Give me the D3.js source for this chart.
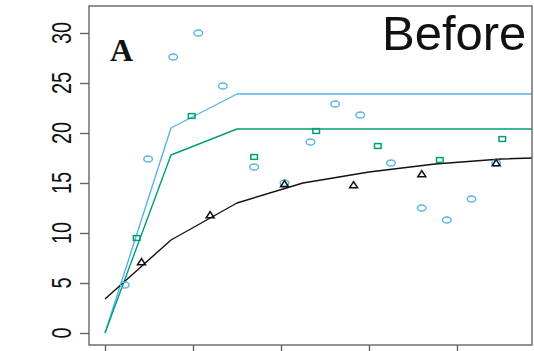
<!DOCTYPE html>
<html><head><meta charset="utf-8">
<script src="https://cdn.jsdelivr.net/npm/d3@7"></script>
<style>html,body{margin:0;padding:0;background:#fff;overflow:hidden}</style>
</head><body>
<script>
const xTicks = [0, 20, 40, 60, 80];
const yTicks = [0, 5, 10, 15, 20, 25, 30];
const curveX = [0, 15, 30, 45, 60, 75, 90, 105];
const blueLine = [0, 20.5, 23.9, 23.9, 23.9, 23.9, 23.9, 23.9];
const greenLine = [0, 17.8, 20.4, 20.4, 20.4, 20.4, 20.4, 20.4];
const blackLine = [3.4, 9.3, 13.0, 15.0, 16.1, 16.9, 17.4, 17.6];
const blueX = [4.5, 9.8, 15.5, 21.2, 26.8, 33.9, 40.8, 46.7, 52.3, 58.0, 65.0, 72.0, 77.7, 83.3, 88.9];
const blueY = [4.8, 17.4, 27.6, 30.0, 24.7, 16.6, 15.0, 19.1, 22.9, 21.8, 17.0, 12.5, 11.3, 13.4, 17.0];
const greenX = [7.2, 19.7, 33.9, 48.0, 62.0, 76.1, 90.3];
const greenY = [9.5, 21.7, 17.6, 20.2, 18.7, 17.3, 19.4];
const blackX = [8.3, 23.9, 40.8, 56.5, 72.0, 88.9];
const blackY = [7.1, 11.8, 14.9, 14.8, 15.9, 17.0];
const panelLabel = "A";
const titleText = "Before";

const W = 534, H = 351;
const L = 89, R = 532, T = 6, B = 345;
const svg = d3.select("body").append("svg").attr("width", W).attr("height", H);

const x = d3.scaleLinear().domain([-3.636, 97.05]).range([L, R]);
const y = d3.scaleLinear().domain([-1.2, 32.7]).range([B, T]);

const BLUE = "#56B4E9", GREEN = "#009E73", BLACK = "#111";

svg.append("clipPath").attr("id", "clip").append("rect")
  .attr("x", L).attr("y", T).attr("width", R - L).attr("height", B - T);
const plot = svg.append("g").attr("clip-path", "url(#clip)");

const line = d3.line().x((d, i) => x(curveX[i])).y(d => y(d));
[[blueLine, BLUE], [greenLine, GREEN], [blackLine, BLACK]].forEach(([arr, c]) => {
  plot.append("path").attr("d", line(arr)).attr("fill", "none")
    .attr("stroke", c).attr("stroke-width", 1.4).attr("stroke-linejoin", "round");
});

// blue circles
plot.selectAll(".c").data(blueX).join("ellipse")
  .attr("cx", d => x(d)).attr("cy", (d, i) => y(blueY[i]))
  .attr("rx", 4.3).attr("ry", 3).attr("fill", "none").attr("stroke", BLUE).attr("stroke-width", 1.4);
// green squares
plot.selectAll(".s").data(greenX).join("rect")
  .attr("x", d => x(d) - 3.3).attr("y", (d, i) => y(greenY[i]) - 2.4)
  .attr("width", 6.6).attr("height", 4.8).attr("fill", "none").attr("stroke", GREEN).attr("stroke-width", 1.5);
// black triangles
plot.selectAll(".t").data(blackX).join("path")
  .attr("d", (d, i) => {
    const cx = x(d), cy = y(blackY[i]);
    return `M${cx - 4},${cy + 2.8}L${cx + 4},${cy + 2.8}L${cx},${cy - 3.4}Z`;
  })
  .attr("fill", "none").attr("stroke", BLACK).attr("stroke-width", 1.5).attr("stroke-linejoin", "miter");

// box
svg.append("rect").attr("x", L).attr("y", T).attr("width", R - L).attr("height", B - T)
  .attr("fill", "none").attr("stroke", "#666").attr("stroke-width", 1.4);

// y axis
const yAxis = svg.append("g").attr("transform", `translate(${L},0)`)
  .call(d3.axisLeft(y).tickValues(yTicks).tickSize(9).tickFormat(""));
yAxis.select(".domain").remove();
yAxis.selectAll("line").attr("stroke", "#666").attr("stroke-width", 1.4);
svg.append("g").selectAll("text").data(yTicks).join("text")
  .attr("transform", d => `translate(71,${y(d)}) scale(1.35,1) rotate(-90)`)
  .attr("text-anchor", "middle")
  .attr("font-family", "Liberation Sans, Arial, sans-serif")
  .attr("font-size", 20).attr("fill", "#111")
  .text(d => d);

// x axis
const xAxis = svg.append("g").attr("transform", `translate(0,${B})`)
  .call(d3.axisBottom(x).tickValues(xTicks).tickSize(9).tickFormat(""));
xAxis.select(".domain").remove();
xAxis.selectAll("line").attr("stroke", "#666").attr("stroke-width", 1.4);

// labels
svg.append("text").attr("x", 110).attr("y", 61)
  .attr("font-family", "Liberation Serif, Times New Roman, serif")
  .attr("font-weight", "bold").attr("font-size", 32).attr("fill", "#111").text(panelLabel);
svg.append("text").attr("x", 382).attr("y", 50)
  .attr("font-family", "Liberation Sans, Arial, sans-serif")
  .attr("font-size", 49).attr("fill", "#111").text(titleText);
</script>
</body></html>
